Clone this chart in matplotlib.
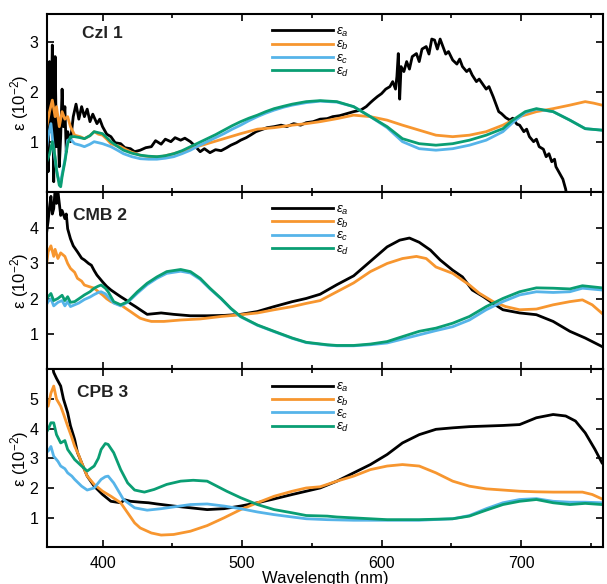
import matplotlib
matplotlib.use("Agg")
import matplotlib.pyplot as plt
from matplotlib.ticker import MultipleLocator

plt.rcParams['font.family'] = ['Liberation Sans', 'DejaVu Sans']
plt.rcParams['mathtext.fontset'] = 'custom'
plt.rcParams['mathtext.rm'] = 'Liberation Sans'
plt.rcParams['mathtext.it'] = 'Liberation Sans:italic'

# ---- Czl 1 ----
czl_a_wl = [360, 361, 362, 363, 364, 365, 366, 367, 368, 369, 370, 371, 372, 373, 374, 375, 377, 379, 381,
            383, 385, 387, 389, 391, 393, 396, 398, 400, 403, 406, 409, 413, 416, 420, 423, 427, 431, 435,
            438, 442, 445, 449, 452, 456, 459, 463, 466, 470, 473, 477, 481, 485, 489, 492, 496, 499, 503,
            506, 510, 513, 518, 523, 528, 532, 537, 542, 546, 551, 556, 561, 565, 570, 575, 580, 585, 589,
            592, 594, 597, 600, 603, 606, 608, 610, 611, 612, 613, 614, 616, 618, 620, 622, 625, 627, 629,
            632, 634, 636, 638, 640, 642, 644, 646, 648, 651, 654, 656, 658, 661, 663, 665, 668, 670, 673,
            675, 677, 680, 682, 684, 686, 689, 692, 694, 697, 699, 702, 704, 706, 709, 711, 713, 716, 718,
            720, 722, 724, 725, 728, 730, 732, 734]
czl_a = [2.0, 0.4, 2.6, 1.2, 2.93, 0.2, 2.7, 0.9, 1.4, 0.5, 1.1, 2.05, 1.3, 1.7, 0.8, 1.2, 1.0, 1.5, 1.75,
         1.45, 1.7, 1.5, 1.65, 1.4, 1.55, 1.36, 1.45, 1.3, 1.15, 1.1, 0.98, 0.96, 0.88, 0.86, 0.8, 0.83, 0.88,
         0.9, 1.02, 0.95, 1.05, 1.0, 1.08, 1.03, 1.07, 1.0, 0.92, 0.8, 0.86, 0.78, 0.84, 0.82, 0.88, 0.93,
         0.98, 1.03, 1.08, 1.13, 1.2, 1.23, 1.28, 1.3, 1.33, 1.3, 1.36, 1.33, 1.38, 1.4, 1.45, 1.46, 1.5,
         1.52, 1.56, 1.6, 1.63, 1.7, 1.78, 1.83, 1.9, 1.96, 2.05, 2.1, 2.2, 2.05, 2.3, 2.76, 1.85, 2.5, 2.4,
         2.6, 2.45, 2.7, 2.76, 2.6, 2.85, 2.9, 2.75, 3.05, 3.03, 2.85, 3.05, 2.9, 2.75, 2.8, 2.63, 2.55,
         2.65, 2.5, 2.4, 2.45, 2.33, 2.2, 2.25, 2.13, 2.05, 2.1, 1.9, 1.75, 1.6, 1.56, 1.48, 1.43, 1.47,
         1.35, 1.33, 1.2, 1.25, 1.1, 1.0, 1.05, 0.9, 0.85, 0.7, 0.76, 0.6, 0.65, 0.5, 0.35, 0.25, 0.05, -0.3]

czl_b_wl = [360, 362, 364, 366, 367, 369, 371, 373, 375, 377, 380, 384, 387, 391, 394, 397, 400, 403, 406,
            410, 413, 417, 420, 424, 427, 431, 435, 442, 451, 463, 475, 487, 499, 511, 523, 536, 546, 556,
            568, 580, 592, 604, 615, 627, 639, 651, 663, 675, 687, 699, 711, 723, 735, 746, 752, 758]
czl_b = [1.3, 1.6, 1.83, 1.5, 1.7, 1.3, 1.6, 1.45, 1.5, 1.3, 1.13, 1.1, 1.06, 1.12, 1.2, 1.15, 1.13, 1.05,
         0.96, 0.92, 0.9, 0.84, 0.8, 0.76, 0.73, 0.71, 0.7, 0.7, 0.76, 0.86, 0.96, 1.06, 1.16, 1.25, 1.28,
         1.33, 1.36, 1.4, 1.46, 1.53, 1.5, 1.43, 1.33, 1.23, 1.13, 1.1, 1.13, 1.2, 1.33, 1.5, 1.6, 1.66,
         1.73, 1.8, 1.77, 1.73]

czl_c_wl = [360, 361, 363, 365, 367, 368, 370, 371, 373, 375, 377, 380, 384, 387, 391, 394, 397, 400, 406,
            410, 415, 421, 427, 433, 439, 445, 451, 457, 463, 469, 475, 481, 487, 493, 499, 505, 511, 517,
            523, 530, 536, 546, 556, 568, 580, 592, 604, 615, 627, 639, 651, 663, 675, 687, 694, 703, 711,
            723, 735, 746, 758]
czl_c = [0.9, 1.1, 1.36, 0.83, 0.45, 0.3, 0.16, 0.35, 0.63, 1.03, 1.05, 0.96, 0.93, 0.9, 0.95, 1.0, 0.98,
         0.96, 0.9, 0.84, 0.76, 0.7, 0.66, 0.65, 0.65, 0.67, 0.7, 0.76, 0.83, 0.92, 1.0, 1.08, 1.16, 1.25,
         1.33, 1.42, 1.5, 1.57, 1.63, 1.69, 1.73, 1.78, 1.81, 1.79, 1.7, 1.5, 1.28, 1.0, 0.86, 0.83, 0.86,
         0.93, 1.03, 1.2, 1.38, 1.58, 1.65, 1.6, 1.43, 1.26, 1.23]

czl_d_wl = [360, 362, 364, 366, 367, 369, 370, 371, 373, 375, 377, 380, 384, 387, 391, 394, 397, 400, 403,
            406, 410, 415, 421, 427, 433, 439, 445, 451, 457, 463, 469, 475, 481, 487, 493, 499, 505, 511,
            517, 523, 530, 536, 546, 556, 568, 580, 592, 604, 615, 627, 639, 651, 663, 675, 687, 694, 703,
            711, 723, 735, 746, 758]
czl_d = [0.6, 0.75, 1.0, 0.7, 0.43, 0.13, 0.1, 0.3, 0.6, 0.96, 1.1, 1.1, 1.08, 1.06, 1.12, 1.2, 1.18, 1.16,
         1.08, 1.0, 0.92, 0.83, 0.77, 0.73, 0.71, 0.7, 0.72, 0.76, 0.82, 0.9, 0.98, 1.06, 1.14, 1.23, 1.32,
         1.4, 1.47, 1.53, 1.6, 1.66, 1.71, 1.75, 1.8, 1.82, 1.8, 1.7, 1.5, 1.3, 1.06, 0.96, 0.93, 0.96,
         1.03, 1.13, 1.26, 1.43, 1.6, 1.66, 1.6, 1.43, 1.26, 1.23]

# ---- CMB 2 ----
cmb_a_wl = [360, 361, 362, 363, 364, 365, 366, 367, 368, 370, 371, 373, 374, 375, 377, 379, 382, 385, 387,
            390, 392, 394, 396, 400, 403, 406, 410, 413, 417, 420, 424, 427, 432, 437, 442, 451, 463, 475,
            487, 499, 511, 523, 536, 546, 556, 568, 580, 592, 604, 613, 620, 627, 635, 642, 651, 658, 665,
            673, 680, 687, 699, 711, 723, 735, 746, 758]
cmb_a = [3.9, 4.2, 4.6, 4.9, 4.4, 4.55, 5.1, 4.7, 5.05, 4.36, 4.5, 4.27, 4.4, 3.98, 3.7, 3.5, 3.33, 3.15,
         3.1, 3.0, 2.95, 2.8, 2.67, 2.48, 2.35, 2.25, 2.14, 2.06, 1.96, 1.87, 1.77, 1.69, 1.56, 1.58, 1.6,
         1.56, 1.52, 1.52, 1.53, 1.56, 1.64, 1.78, 1.92, 2.01, 2.13, 2.4, 2.65, 3.06, 3.47, 3.66, 3.72,
         3.6, 3.38, 3.1, 2.81, 2.62, 2.25, 2.06, 1.87, 1.69, 1.6, 1.55, 1.36, 1.08, 0.89, 0.65]

cmb_b_wl = [360, 361, 363, 365, 366, 368, 370, 373, 375, 377, 380, 382, 385, 387, 390, 394, 397, 400, 403,
            406, 410, 413, 417, 420, 424, 427, 431, 435, 444, 456, 470, 485, 499, 511, 523, 536, 546, 556,
            568, 580, 592, 604, 615, 625, 632, 639, 651, 663, 670, 680, 689, 699, 711, 723, 735, 744, 751, 758]
cmb_b = [3.0, 3.33, 3.5, 3.2, 3.4, 3.14, 3.3, 3.2, 3.0, 2.86, 2.75, 2.58, 2.5, 2.39, 2.35, 2.3, 2.2, 2.11,
         2.0, 1.92, 1.86, 1.83, 1.72, 1.64, 1.53, 1.45, 1.4, 1.36, 1.36, 1.4, 1.43, 1.5, 1.55, 1.6, 1.69,
         1.78, 1.87, 1.95, 2.2, 2.45, 2.77, 3.0, 3.14, 3.2, 3.14, 2.9, 2.72, 2.39, 2.16, 1.92, 1.78, 1.69,
         1.71, 1.83, 1.92, 1.97, 1.83, 1.59]

cmb_c_wl = [360, 361, 363, 365, 368, 371, 373, 375, 377, 380, 383, 387, 391, 394, 397, 399, 402, 404, 408,
            413, 418, 425, 432, 439, 446, 456, 463, 470, 477, 485, 492, 499, 511, 523, 536, 546, 561, 568,
            580, 592, 604, 615, 627, 639, 651, 663, 675, 687, 699, 711, 723, 735, 744, 758]
cmb_c = [1.85, 1.92, 2.0, 1.8, 1.9, 1.95, 1.8, 1.92, 1.78, 1.83, 1.88, 1.98, 2.05, 2.12, 2.18, 2.2, 2.14,
         2.05, 1.88, 1.8, 1.9, 2.16, 2.4, 2.58, 2.72, 2.78, 2.73, 2.55, 2.28, 2.0, 1.72, 1.49, 1.25, 1.07,
         0.88, 0.76, 0.69, 0.67, 0.67, 0.7, 0.75, 0.86, 0.98, 1.1, 1.21, 1.4, 1.69, 1.92, 2.11, 2.2, 2.18,
         2.2, 2.3, 2.25]

cmb_d_wl = cmb_c_wl
cmb_d = [2.0, 2.06, 2.15, 1.95, 2.01, 2.1, 1.95, 2.06, 1.9, 1.92, 2.0, 2.11, 2.2, 2.3, 2.36, 2.39, 2.3, 2.2,
         1.92, 1.83, 1.92, 2.2, 2.44, 2.62, 2.77, 2.83, 2.77, 2.58, 2.3, 2.01, 1.73, 1.5, 1.26, 1.08, 0.89,
         0.77, 0.7, 0.68, 0.68, 0.72, 0.79, 0.93, 1.08, 1.17, 1.31, 1.5, 1.78, 2.01, 2.2, 2.31, 2.3, 2.28,
         2.37, 2.31]

# ---- CPB 3 ----
cpb_a_wl = [360, 362, 363, 365, 367, 370, 372, 375, 377, 380, 382, 385, 389, 394, 400, 406, 413, 416, 420,
            427, 433, 439, 451, 463, 475, 487, 499, 511, 523, 536, 546, 556, 568, 580, 592, 604, 615, 627,
            639, 651, 663, 675, 687, 699, 711, 723, 732, 739, 746, 753, 758]
cpb_a = [6.3, 6.1, 6.4, 5.9, 5.7, 5.44, 5.0, 4.54, 4.1, 3.64, 3.2, 2.85, 2.4, 2.06, 1.78, 1.55, 1.5, 1.6,
         1.55, 1.52, 1.5, 1.46, 1.39, 1.33, 1.27, 1.3, 1.39, 1.5, 1.63, 1.78, 1.89, 2.0, 2.23, 2.51, 2.79,
         3.13, 3.52, 3.8, 3.98, 4.03, 4.07, 4.09, 4.11, 4.14, 4.37, 4.48, 4.43, 4.26, 3.86, 3.3, 2.85]

cpb_b_wl = [360, 361, 363, 365, 367, 370, 372, 375, 378, 380, 383, 385, 389, 394, 400, 406, 413, 418, 423,
            427, 435, 442, 451, 463, 475, 487, 499, 511, 523, 536, 546, 556, 568, 580, 592, 604, 615, 627,
            639, 651, 663, 675, 687, 699, 711, 723, 735, 744, 751, 758]
cpb_b = [4.8, 4.76, 5.2, 5.44, 5.0, 4.76, 4.5, 4.09, 3.7, 3.41, 3.1, 2.85, 2.4, 2.12, 1.89, 1.72, 1.5, 1.16,
         0.82, 0.65, 0.48, 0.41, 0.43, 0.54, 0.73, 0.99, 1.27, 1.5, 1.72, 1.89, 2.0, 2.04, 2.23, 2.4, 2.62,
         2.74, 2.79, 2.74, 2.51, 2.23, 2.06, 1.97, 1.93, 1.89, 1.87, 1.86, 1.86, 1.86, 1.78, 1.63]

cpb_c_wl = [360, 361, 363, 365, 368, 370, 373, 375, 378, 380, 385, 389, 394, 399, 402, 404, 408, 415, 423,
            432, 442, 451, 463, 475, 487, 499, 511, 523, 536, 546, 561, 580, 604, 627, 651, 663, 675, 687,
            699, 711, 723, 735, 746, 758]
cpb_c = [3.3, 3.24, 3.4, 3.07, 2.9, 2.74, 2.65, 2.51, 2.4, 2.29, 2.06, 1.93, 2.0, 2.29, 2.38, 2.4, 2.17,
         1.61, 1.33, 1.25, 1.3, 1.36, 1.44, 1.46, 1.39, 1.3, 1.19, 1.1, 1.02, 0.96, 0.93, 0.91, 0.91, 0.91,
         0.96, 1.07, 1.3, 1.5, 1.61, 1.64, 1.55, 1.52, 1.52, 1.5]

cpb_d_wl = [360, 361, 363, 365, 367, 370, 373, 375, 378, 380, 385, 389, 394, 397, 399, 402, 404, 408, 413,
            418, 423, 430, 437, 446, 456, 465, 475, 482, 489, 499, 511, 523, 536, 546, 561, 568, 580, 592,
            604, 627, 651, 663, 675, 687, 699, 711, 723, 735, 746, 758]
cpb_d = [3.9, 3.98, 4.2, 4.2, 3.8, 3.52, 3.6, 3.3, 3.1, 2.96, 2.74, 2.57, 2.74, 3.0, 3.3, 3.5, 3.47, 3.19,
         2.62, 2.17, 1.93, 1.86, 1.95, 2.12, 2.23, 2.26, 2.23, 2.06, 1.89, 1.67, 1.44, 1.27, 1.16, 1.07,
         1.05, 1.02, 0.99, 0.96, 0.93, 0.93, 0.96, 1.05, 1.25, 1.44, 1.55, 1.61, 1.5, 1.44, 1.48, 1.44]

names = ["Czl 1", "CMB 2", "CPB 3"]
ylims = [(0, 3.55), (0, 5.03), (0, 6.0)]
yticks = [[1, 2, 3], [1, 2, 3, 4], [1, 2, 3, 4, 5]]
name_pos = [(0.063, 0.893), (0.047, 0.868), (0.054, 0.873)]
labels = [r"$\varepsilon_a$", r"$\varepsilon_b$", r"$\varepsilon_c$", r"$\varepsilon_d$"]
colors = ["black", "#F7962F", "#56B4E9", "#0A9E73"]

panels = [
    [(czl_a_wl, czl_a), (czl_b_wl, czl_b), (czl_c_wl, czl_c), (czl_d_wl, czl_d)],
    [(cmb_a_wl, cmb_a), (cmb_b_wl, cmb_b), (cmb_c_wl, cmb_c), (cmb_d_wl, cmb_d)],
    [(cpb_a_wl, cpb_a), (cpb_b_wl, cpb_b), (cpb_c_wl, cpb_c), (cpb_d_wl, cpb_d)],
]

fig = plt.figure(figsize=(6.07, 5.84), dpi=100)
axes = fig.subplots(3, 1, sharex=True)
fig.subplots_adjust(left=0.077, right=0.994, top=0.976, bottom=0.063, hspace=0)

for i, ax in enumerate(axes):
    for (wl, eps), c, lab in zip(panels[i], colors, labels):
        ax.plot(wl, eps, color=c, lw=2.0, label=lab)
    ax.set_xlim(360, 759)
    ax.set_ylim(*ylims[i])
    ax.set_yticks(yticks[i])
    ax.xaxis.set_major_locator(MultipleLocator(100))
    ax.xaxis.set_minor_locator(MultipleLocator(50))
    ax.tick_params(which="both", direction="in", top=True, right=True, width=1.2,
                   labelsize=11.5, pad=6)
    ax.tick_params(which="major", length=5)
    ax.tick_params(which="minor", length=3)
    for sp in ax.spines.values():
        sp.set_linewidth(1.5)
    ax.set_ylabel(r"ε (10$^{-2}$)", fontsize=12, labelpad=-1)
    ax.text(name_pos[i][0], name_pos[i][1], names[i], transform=ax.transAxes,
            fontsize=12.5, fontweight="bold", color="#222222", va="center", ha="left")
    ax.legend(loc="upper left", bbox_to_anchor=(0.405, 0.935), frameon=False,
              handlelength=4.6, handletextpad=0.2, labelspacing=0.0, borderpad=0,
              borderaxespad=0, fontsize=9.5)

axes[-1].set_xlabel("Wavelength (nm)", fontsize=12, labelpad=0)

fig.savefig("out.png", dpi=100)
